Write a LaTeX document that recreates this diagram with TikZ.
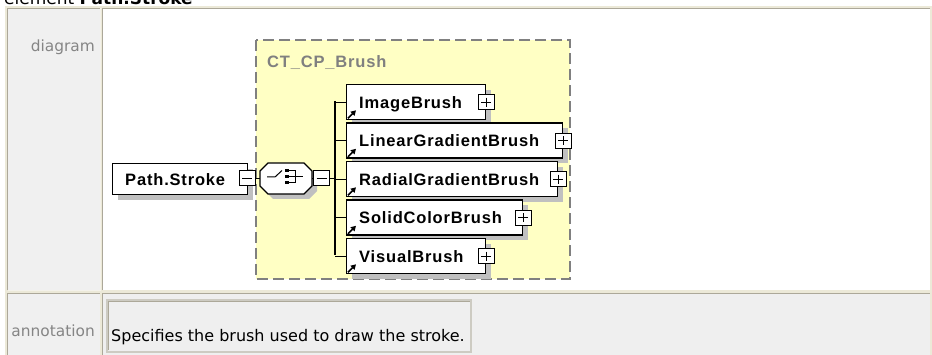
\documentclass[tikz,border=0pt]{standalone}
\usepackage{fontspec}
\setmainfont{DejaVu Sans}
\newfontfamily\diafont[LetterSpace=5]{Liberation Sans}
\usetikzlibrary{calc,shadows,arrows.meta}
\definecolor{tablebg}{HTML}{ECE9D8}
\definecolor{celldark}{HTML}{ACA899}
\definecolor{celllight}{HTML}{F4F2EA}
\definecolor{labelfill}{HTML}{F0F0F0}
\definecolor{annofill}{HTML}{EFEFEF}
\definecolor{grpfill}{HTML}{FFFFC4}
\definecolor{grpline}{HTML}{808080}
\definecolor{shadowgray}{HTML}{C0C0C0}
\definecolor{labelgray}{HTML}{858585}
\begin{document}
\begin{tikzpicture}[x=1pt,y=-1pt,
  elembox/.style={draw=black, line width=1.3pt, fill=white, minimum height=35pt, inner sep=0, anchor=north west,
     drop shadow={shadow xshift=5pt, shadow yshift=-5pt, opacity=1, fill=shadowgray}},
  elemtext/.style={font=\diafont\bfseries\fontsize{16.5}{19}\selectfont, anchor=base west, inner sep=0},
  pmbox/.style={draw=black, line width=1pt, fill=white, minimum width=16pt, minimum height=15pt, inner sep=0},
  plusbox/.style={pmbox, path picture={
     \draw[line width=1pt] ([xshift=3pt]path picture bounding box.west) -- ([xshift=-3pt]path picture bounding box.east)
       ([yshift=-3pt]path picture bounding box.north) -- ([yshift=3pt]path picture bounding box.south);}},
  minusbox/.style={pmbox, path picture={
     \draw[line width=1pt] ([xshift=3pt]path picture bounding box.west) -- ([xshift=-3pt]path picture bounding box.east);}},
  conn/.style={line width=1.2pt, black},
  refarrow/.style={-{Triangle[length=5pt,width=5.5pt]}, line width=1.5pt},
  celltext/.style={font=\fontsize{15.4}{18}\selectfont, inner sep=0},
]
\useasboundingbox (0,0) rectangle (932,355);
\clip (0,0) rectangle (932,355);
\fill[white] (0,0) rectangle (932,355);

% title (cut off at top, as in the page it comes from)
\node[anchor=base west, font=\fontsize{17}{20}\selectfont, inner sep=0] (title) at (4,4.5) {element \textbf{Path.Stroke}};

% table
\fill[tablebg] (5,6) rectangle (932,358);
\fill[labelfill] (7.5,8.5) rectangle (100,290.5);
\draw[celldark] (7.5,290.5) -- (7.5,8.5) -- (100,8.5);
\draw[celllight] (100,8.5) -- (100,290.5) -- (7.5,290.5);
\fill[white] (102,8.5) rectangle (930,290.5);
\draw[celldark] (102,290.5) -- (102,8.5) -- (930,8.5);
\fill[labelfill] (7.5,293.5) rectangle (100,358);
\draw[celldark] (7.5,358) -- (7.5,293.5) -- (100,293.5);
\fill[annofill] (102,293.5) rectangle (930,358);
\draw[celldark] (102,358) -- (102,293.5) -- (930,293.5);

\node[celltext, text=labelgray, anchor=base east] (lbldiag) at (95,52) {diagram};
\node[celltext, text=labelgray, anchor=base east] (lblanno) at (95,337) {annotation};

% annotation box
\draw[draw=celldark!60, line width=2pt, fill=annofill] (107,300) rectangle (471,352);
\draw[celldark, line width=0.8pt] (108.5,350.5) -- (108.5,301.5) -- (469.5,301.5);
\node[celltext, font=\fontsize{16}{19}\selectfont, anchor=base west] (annotext) at (111,342) {Specifies the brush used to draw the stroke.};

% group box
\draw[draw=grpline, fill=grpfill, line width=1.5pt, dash pattern=on 11pt off 5pt] (256,40) rectangle (570,279);
\node[elemtext, text=grpline] (grplabel) at (267,68) {CT\_CP\_Brush};

% bus coordinates
\coordinate (bustop) at (335,101.5);
\coordinate (busmid) at (335,178.5);
\coordinate (busbot) at (335,255.5);

% Path.Stroke
\node[elembox, minimum width=135pt, minimum height=31pt] (ps) at (112,163) {};
\node[elemtext] (pst) at ($(ps.west)+(13,6)$) {Path.Stroke};
\node[minusbox] (psm) at (247,178.5) {};

% sequence compositor
\node[minimum width=52pt, minimum height=31pt, inner sep=0] (seq) at (286,178.5) {};
\fill[shadowgray, shift={($(seq.center)+(5,5)$)}] (-26,-7.5) -- (-18,-15.5) -- (18,-15.5) -- (26,-7.5) -- (26,7.5) -- (18,15.5) -- (-18,15.5) -- (-26,7.5) -- cycle;
\draw[black, line width=1.2pt, fill=white, shift={(seq.center)}] (-26,-7.5) -- (-18,-15.5) -- (18,-15.5) -- (26,-7.5) -- (26,7.5) -- (18,15.5) -- (-18,15.5) -- (-26,7.5) -- cycle;
\begin{scope}[shift={(seq.center)}]
  \draw[line width=1pt] (-19,-1.5) -- (-11,-1.5) -- (-4,-8);
  \fill (-1,-9.5) rectangle (2.5,-6);
  \fill (-1,-3.5) rectangle (2.5,0);
  \fill (-1,2.5) rectangle (2.5,6);
  \draw[line width=1pt] (2.5,-7.75) -- (9,-7.75) -- (9,4.25) -- (2.5,4.25);
  \draw[line width=1pt] (2.5,-1.75) -- (17,-1.75);
\end{scope}
\node[minusbox] (seqm) at (321.5,178.5) {};

% connectors
\draw[conn] (psm.east) -- (seq.west);
\draw[conn] (seq.east) -- (seqm.west);
\draw[conn] (seqm.east) -- (busmid);
\draw[conn] (bustop) -- (busbot);

% children
\node[elembox, minimum width=139pt] (img) at (346,84) {};
\node[elembox, minimum width=216pt] (lin) at (346,122.5) {};
\node[elembox, minimum width=211pt] (rad) at (346,161) {};
\node[elembox, minimum width=176pt] (sol) at (346,199.5) {};
\node[elembox, minimum width=139pt] (vis) at (346,238) {};

\foreach \n in {img,lin,rad,sol,vis}{
  \draw[conn] (\n.west -| bustop) -- (\n.west);
  \draw[refarrow] ($(\n.south west)+(2,-2)$) -- ++(8,-8);
  \node[plusbox] (\n p) at (\n.east) {};
}
\node[elemtext] (imgt) at ($(img.west)+(13,6)$) {ImageBrush};
\node[elemtext] (lint) at ($(lin.west)+(13,6)$) {LinearGradientBrush};
\node[elemtext] (radt) at ($(rad.west)+(13,6)$) {RadialGradientBrush};
\node[elemtext] (solt) at ($(sol.west)+(13,6)$) {SolidColorBrush};
\node[elemtext] (vist) at ($(vis.west)+(13,6)$) {VisualBrush};
\end{tikzpicture}
\end{document}
